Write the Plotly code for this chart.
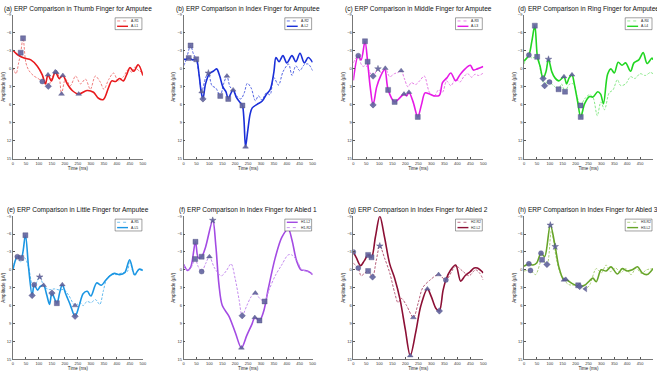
import numpy as np
import plotly.graph_objects as go

# ---------------- axis ticks ----------------
time_ticks = [0, 50, 100, 150, 200, 250, 300, 350, 400, 450, 500]
amp_ticks = [-9, -6, -3, 0, 3, 6, 9, 12, 15]

# ---------------- (a) Thumb, amputee ----------------
a_r1_t = [0, 12, 22, 30, 39, 50, 62, 81, 97, 113, 125, 136, 151, 167, 178, 187, 202, 221, 241, 260,
          279, 298, 317, 336, 350, 368, 387, 405, 425, 444, 458, 469, 484, 500]
a_r1_v = [-0.2, 0.8, -1.0, -2.7, -5.1, -1.0, 0.3, 1.2, 1.6, 2.1, 2.3, 2.9, 1.4, 0.6, 1.4, 4.2, 1.7, 2.8, 1.2, 2.5,
          1.7, 3.4, 1.2, 2.2, 3.4, 1.8, 0.7, 2.0, 1.3, 0.1, 0.6, -0.3, 0.3, 0.6]
a_l1_t = [0, 18, 43, 69, 94, 113, 125, 135, 148, 163, 178, 192, 209, 228, 253, 285, 310, 329, 348, 368,
          380, 395, 410, 425, 438, 450, 465, 482, 500]
a_l1_v = [-3.1, -2.35, -1.8, -1.5, -0.45, 1.0, 2.5, 1.0, 2.0, 0.5, 1.6, 1.1, 2.5, 3.6, 4.2, 3.6, 3.9, 4.9, 5.1, 3.1,
          2.0, 2.1, 1.6, 2.0, 0.9, -0.2, 0.4, -0.7, 1.1]
a_r1_mk = [(30, "square"), (39, "square"), (113, "circle"), (136, "diamond"), (167, "triangle-up"), (187, "triangle-up")]
a_l1_mk = [(135, "triangle-up"), (163, "triangle-up"), (192, "triangle-up"), (253, "triangle-up")]

# ---------------- (b) Index, amputee ----------------
a_r2_t = [0, 10, 27, 38, 49, 60, 70, 85, 96, 110, 125, 142, 155, 168, 180, 192, 205, 222, 235, 247,
          262, 278, 290, 304, 320, 335, 349, 368, 385, 407, 420, 435, 450, 468, 483, 500]
a_r2_v = [-0.5, -1.5, -3.9, -2.5, -1.6, 1.0, 3.8, 1.5, 0.7, 2.8, 3.2, 4.5, 2.5, 1.2, 3.0, 3.5, 4.5, 5.0, 4.0, 2.4,
          3.2, 5.3, 4.5, 5.2, 4.0, 4.3, 1.4, 2.7, 0.5, -0.8, 1.1, -0.5, 0.3, -0.7, -0.8, 0.3]
a_l2_t = [0, 10, 20, 35, 49, 60, 68, 75, 85, 100, 115, 128, 140, 152, 164, 173, 182, 192, 205, 221,
          228, 234, 240, 248, 258, 266, 285, 304, 320, 336, 350, 358, 370, 385, 400, 420, 435, 451, 468, 483, 500]
a_l2_v = [-1.6, -1.6, -1.8, -1.5, -1.6, 1.0, 3.8, 5.0, 2.5, 0.8, 0.4, 0.0, 1.2, 3.0, 3.8, 5.0, 4.2, 3.5, 4.8, 5.7,
          6.1, 8.5, 13.0, 10.5, 7.5, 6.5, 5.9, 5.4, 4.3, 3.4, 0.5, -1.9, -1.2, -2.2, -1.0, -2.2, -1.2, -2.6, -1.0, -1.9, -1.1]
a_r2_mk = [(27, "square"), (70, "triangle-up"), (96, "star"), (142, "square"), (168, "triangle-up")]
a_l2_mk = [(20, "square"), (49, "square"), (75, "diamond"), (173, "square"), (192, "triangle-up"),
           (228, "square"), (240, "triangle-up")]

# ---------------- (c) Middle, amputee ----------------
a_r3_t = [0, 19, 30, 38, 48, 64, 76, 95, 108, 123, 140, 158, 172, 184, 197, 210, 223, 240, 255, 273,
          293, 312, 328, 343, 359, 375, 394, 410, 425, 440, 455, 468, 482, 500]
a_r3_v = [-1.0, -2.2, -0.8, -0.4, -0.6, 0.6, 1.2, 0.0, 0.7, -0.1, 1.3, 0.8, 0.6, 0.3, 1.7, 3.0, 2.3, 2.6, 2.0, 1.2,
          3.9, 4.5, 3.5, 3.9, 2.0, 2.8, 1.7, 2.2, 1.3, 0.8, 1.4, 0.9, 1.1, 0.7]
a_l3_t = [0, 19, 30, 45, 55, 65, 76, 90, 105, 121, 134, 159, 175, 195, 205, 214, 230, 248, 262, 276,
          293, 310, 331, 343, 360, 375, 394, 410, 430, 450, 462, 477, 500]
a_l3_v = [1.9, -2.2, -1.5, -4.6, -1.2, 3.0, 6.0, 3.0, 1.2, 0.1, 3.5, 5.5, 5.0, 4.2, 4.5, 3.9, 5.5, 8.0, 6.0, 4.0,
          4.2, 4.5, 4.4, 2.3, 1.5, 0.7, 2.0, 1.0, 0.0, -0.6, 0.2, 0.0, -0.4]
a_r3_mk = [(19, "circle"), (76, "diamond"), (95, "star"), (123, "triangle-up"), (184, "triangle-up")]
a_l3_mk = [(45, "square"), (55, "square"), (76, "diamond"), (134, "square"), (159, "square"),
           (195, "triangle-up"), (214, "triangle-up"), (248, "square")]

# ---------------- (d) Ring, amputee ----------------
a_r4_t = [0, 19, 30, 51, 65, 80, 90, 99, 115, 134, 145, 159, 175, 191, 205, 219, 235, 254, 268, 284,
          298, 312, 330, 345, 362, 375, 394, 413, 430, 450, 470, 490, 500]
a_r4_v = [-0.8, -2.3, -1.8, -2.0, 0.5, 2.8, 2.0, 2.2, 2.8, 3.4, 2.5, 3.8, 2.6, 2.5, 4.5, 6.1, 5.0, 4.3, 4.8, 7.8,
          5.5, 6.8, 4.0, 3.5, 1.8, 2.8, 2.5, 1.3, 1.6, 0.8, 1.1, 0.6, 0.8]
a_l4_t = [0, 19, 30, 42, 52, 62, 74, 85, 95, 108, 120, 135, 155, 165, 175, 186, 195, 208, 220, 235,
          254, 267, 286, 297, 308, 324, 337, 350, 365, 380, 394, 413, 426, 445, 462, 477, 496, 500]
a_l4_v = [-1.3, -2.3, -4.5, -7.2, -2.0, -0.5, 1.6, 0.5, -1.6, 0.5, 1.5, 2.0, 1.3, 2.5, 1.5, 1.0, 2.5, 5.5, 8.0, 5.8,
          4.6, 4.7, 3.8, 4.2, 5.8, 0.9, 0.0, 0.7, -1.1, -0.6, -1.0, 0.4, -1.0, -1.5, -2.7, -0.9, -1.8, -1.5]
a_r4_mk = [(19, "circle"), (51, "square"), (80, "diamond"), (99, "circle"), (134, "square"), (159, "square"),
           (219, "square")]
a_l4_mk = [(42, "square"), (74, "diamond"), (95, "star"), (155, "triangle-up"), (186, "triangle-up"),
           (220, "square")]

# ---------------- (e) Little, amputee ----------------
a_r5_t = [0, 17, 30, 45, 60, 74, 85, 103, 120, 140, 160, 180, 195, 215, 239, 258, 270, 285, 300, 318,
          334, 348, 362, 380, 400, 420, 440, 449, 468, 485, 500]
a_r5_v = [-0.3, -2.2, -1.3, -2.0, -0.5, 2.3, 2.5, 1.2, 2.8, 3.3, 3.2, 3.4, 3.3, 4.3, 6.0, 5.5, 6.0, 5.3, 5.5, 5.0,
          5.8, 3.5, 1.4, 0.8, 0.8, 0.5, 0.3, -1.5, 1.0, 0.0, 0.2]
a_l5_t = [0, 17, 32, 48, 60, 74, 82, 95, 105, 118, 130, 141, 150, 169, 180, 190, 203, 220, 239, 255,
          270, 286, 300, 322, 340, 356, 373, 390, 410, 430, 449, 468, 485, 500]
a_l5_v = [0.0, -2.2, -2.0, -5.8, -0.5, 4.3, 2.5, 3.4, 2.8, 2.6, 4.2, 5.8, 3.9, 5.6, 3.8, 2.5, 4.0, 5.8, 7.8, 6.0,
          4.0, 3.6, 4.4, 2.2, 2.6, 1.8, 1.0, 0.6, 0.8, 0.5, -1.7, 0.8, -0.1, 0.1]
a_r5_mk = [(103, "star"), (239, "triangle-up")]
a_l5_mk = [(17, "circle"), (32, "square"), (48, "square"), (74, "diamond"), (82, "circle"), (118, "triangle-up"),
           (150, "diamond"), (169, "square"), (190, "triangle-up"), (239, "diamond")]

# ---------------- (f) Index, abled 1 ----------------
h1_r2_t = [0, 15, 28, 45, 57, 70, 85, 100, 120, 146, 165, 184, 200, 215, 227, 245, 262, 278, 295, 314,
           330, 355, 380, 405, 419, 440, 458, 475, 500]
h1_r2_v = [-0.9, 0.1, -0.3, -1.8, -0.5, 0.3, -1.0, -2.2, -0.3, 1.0, 0.2, -1.0, 1.5, 5.0, 7.7, 6.0, 4.5, 3.9, 4.8, 5.3,
           3.5, 1.0, -0.8, -2.5, -2.5, -1.5, 0.0, 0.2, 0.8]
h1_l2_t = [0, 15, 28, 46, 57, 70, 85, 113, 125, 137, 150, 176, 201, 224, 245, 265, 276, 294, 310, 329,
           355, 381, 406, 420, 438, 455, 470, 485, 500]
h1_l2_v = [-0.9, 0.1, -0.5, -4.7, -2.0, -2.2, -3.8, -8.3, -4.0, 2.5, 6.0, 7.8, 10.6, 13.1, 11.0, 9.1, 8.0, 8.5, 7.0, 3.0,
           -2.0, -5.5, -6.8, -5.0, -1.5, 0.0, 0.1, 0.3, 0.8]
h1_r2_mk = [(45, "square"), (70, "circle"), (100, "triangle-up"), (227, "diamond"), (278, "triangle-up"),
            (314, "square")]
h1_l2_mk = [(46, "square"), (70, "square"), (113, "star"), (224, "triangle-up"), (276, "triangle-up"),
            (294, "square")]

# ---------------- (g) Index, abled 2 ----------------
h2_r2_t = [0, 19, 30, 45, 57, 74, 88, 102, 120, 140, 160, 172, 185, 205, 231, 250, 267, 293, 328, 356,
           394, 420, 445, 470, 485, 500]
h2_r2_v = [-1.1, -0.3, 1.0, 0.5, 0.2, 1.2, -1.5, -4.0, -2.0, 0.5, 4.0, 5.5, 4.8, 6.0, 8.0, 5.5, 3.0, 1.8, 0.8, 1.7,
           -0.6, 0.2, 1.0, 0.0, 0.5, 1.7]
h2_l2_t = [0, 12, 28, 42, 57, 70, 85, 102, 120, 140, 159, 180, 200, 219, 240, 260, 285, 300, 318, 331,
           345, 356, 375, 394, 413, 430, 450, 465, 477, 500]
h2_l2_v = [-3.0, -2.0, -0.7, -1.5, -2.5, -2.1, -5.5, -9.0, -5.5, -1.0, 1.4, 5.0, 10.0, 14.4, 10.5, 6.0, 3.2, 4.5, 6.5, 6.9,
           3.5, 1.7, 0.0, -0.8, 1.9, 1.0, 0.3, -0.3, -0.3, 0.5]
h2_r2_mk = [(19, "circle"), (57, "square"), (74, "diamond"), (102, "star"), (231, "triangle-up"),
            (328, "triangle-up")]
h2_l2_mk = [(0, "circle"), (57, "square"), (70, "square"), (219, "triangle-up"), (285, "triangle-up"),
            (331, "diamond"), (356, "circle")]

# ---------------- (h) Index, abled 3 ----------------
h3_r2_t = [0, 25, 45, 70, 89, 106, 125, 140, 155, 175, 210, 225, 238, 255, 280, 300, 318, 335, 355, 375,
           395, 415, 435, 455, 475, 500]
h3_r2_v = [0.2, 0.1, 0.8, -1.7, -0.9, -6.5, -2.0, 0.5, 1.7, 2.5, 2.6, 3.0, 3.2, 2.5, -0.2, 0.5, -0.8, 0.3, -0.3, 0.5,
           -0.2, 0.8, -0.3, 0.6, 0.0, -0.2]
h3_l2_t = [0, 19, 35, 50, 66, 80, 102, 121, 135, 153, 162, 191, 216, 235, 255, 267, 280, 299, 318, 337,
           362, 381, 400, 420, 440, 458, 477, 500]
h3_l2_v = [-0.6, -1.0, -0.8, -1.2, -2.8, -2.2, -7.5, -3.9, -0.5, 1.6, 1.6, 2.4, 2.8, 2.6, 1.8, 1.4, 2.0, 0.0, 0.2, -0.5,
           0.7, -0.2, 0.2, 0.0, -0.5, 0.5, 0.8, -0.2]
h3_r2_mk = [(25, "circle"), (70, "square"), (89, "diamond"), (155, "triangle-up"), (210, "square"),
            (238, "triangle-left")]
h3_l2_mk = [(19, "circle"), (66, "circle"), (102, "star"), (121, "star"), (162, "triangle-up"), (216, "diamond")]

# ---------------- panel definitions ----------------
titles = [
    "(a) ERP Comparison in Thumb Finger for Amputee",
    "(b) ERP Comparison in Index Finger for Amputee",
    "(c) ERP Comparison in Middle Finger for Amputee",
    "(d) ERP Comparison in Ring Finger for Amputee",
    "(e) ERP Comparison in Little Finger for Amputee",
    "(f) ERP Comparison in Index Finger for Abled 1",
    "(g) ERP Comparison in Index Finger for Abled 2",
    "(h) ERP Comparison in Index Finger for Abled 3",
]

# each series: (name, times, values, markers, solid?)
panels = [
    [("A-R1", a_r1_t, a_r1_v, a_r1_mk, False), ("A-L1", a_l1_t, a_l1_v, a_l1_mk, True)],
    [("A-R2", a_r2_t, a_r2_v, a_r2_mk, False), ("A-L2", a_l2_t, a_l2_v, a_l2_mk, True)],
    [("A-R3", a_r3_t, a_r3_v, a_r3_mk, False), ("A-L3", a_l3_t, a_l3_v, a_l3_mk, True)],
    [("A-R4", a_r4_t, a_r4_v, a_r4_mk, False), ("A-L4", a_l4_t, a_l4_v, a_l4_mk, True)],
    [("A-R5", a_r5_t, a_r5_v, a_r5_mk, False), ("A-L5", a_l5_t, a_l5_v, a_l5_mk, True)],
    [("H1-L2", h1_l2_t, h1_l2_v, h1_l2_mk, True), ("H1-R2", h1_r2_t, h1_r2_v, h1_r2_mk, False)],
    [("H2-R2", h2_r2_t, h2_r2_v, h2_r2_mk, False), ("H2-L2", h2_l2_t, h2_l2_v, h2_l2_mk, True)],
    [("H3-R2", h3_r2_t, h3_r2_v, h3_r2_mk, False), ("H3-L2", h3_l2_t, h3_l2_v, h3_l2_mk, True)],
]

colors = [
    ("#e8191c", "#ef7f7f"),
    ("#1a2fd8", "#5566e2"),
    ("#e619e6", "#e47ce4"),
    ("#22d622", "#8ae88a"),
    ("#1b96e3", "#66bbee"),
    ("#a34be3", "#c48cee"),
    ("#8c1035", "#b65d79"),
    ("#67a52a", "#aacf7a"),
]

marker_color = "rgba(98,100,158,0.9)"

# ---------------- page geometry (pixels) ----------------
W, H = 657, 380
col_px = [(12, 143), (184, 314), (355, 486), (527, 657)]
row_px = [(12, 158), (216, 361)]
title_y_px = [6, 210]

FONT = "Arial, Liberation Sans, sans-serif"

fig = go.Figure()
layout_axes = {}
shapes = []
annotations = []

for i, (series, title, (c_solid, c_dash)) in enumerate(zip(panels, titles, colors)):
    r, c = divmod(i, 4)
    x0, x1 = col_px[c]
    y0, y1 = row_px[r]
    n = i + 1
    xa = "x" if n == 1 else f"x{n}"
    ya = "y" if n == 1 else f"y{n}"
    xkey = "xaxis" if n == 1 else f"xaxis{n}"
    ykey = "yaxis" if n == 1 else f"yaxis{n}"

    layout_axes[xkey] = dict(
        domain=[x0 / W, x1 / W], anchor=ya, range=[0, 500],
        tickvals=time_ticks, ticks="inside", ticklen=2, tickwidth=0.5, tickcolor="#555",
        showline=True, linecolor="#777", linewidth=0.6, showgrid=False, zeroline=False,
        tickfont=dict(size=4, family=FONT, color="#333"),
        title=dict(text="Time (ms)", font=dict(size=4.5, family=FONT, color="#222"), standoff=1),
    )
    layout_axes[ykey] = dict(
        domain=[1 - y1 / H, 1 - y0 / H], anchor=xa, range=[15, -9],
        tickvals=amp_ticks, ticks="inside", ticklen=2, tickwidth=0.5, tickcolor="#555",
        showline=True, linecolor="#777", linewidth=0.6, showgrid=False, zeroline=False,
        tickfont=dict(size=4, family=FONT, color="#333"),
        title=dict(text="Amplitude (μV)", font=dict(size=4.5, family=FONT, color="#222"), standoff=1),
    )

    # ERP curves
    for name, t, v, mk, solid in series:
        fig.add_trace(go.Scatter(
            x=t, y=v, mode="lines", name=name, showlegend=False,
            xaxis=xa, yaxis=ya,
            line=dict(color=c_solid if solid else c_dash, width=1.6 if solid else 1.0,
                      dash="solid" if solid else "2.5px,1.5px", shape="spline", smoothing=0.9),
            hoverinfo="skip",
        ))
    # peak markers sit on the curves
    for name, t, v, mk, solid in series:
        mt = [m[0] for m in mk]
        fig.add_trace(go.Scatter(
            x=mt, y=np.interp(mt, t, v), mode="markers", showlegend=False,
            xaxis=xa, yaxis=ya,
            marker=dict(symbol=[m[1] for m in mk], size=5, color=marker_color,
                        line=dict(width=0.4, color="rgba(70,70,120,0.9)")),
            hoverinfo="skip",
        ))

    # title
    annotations.append(dict(
        text=title, x=(x0 + x1) / 2 / W, y=1 - title_y_px[r] / H, xref="paper", yref="paper",
        xanchor="center", yanchor="middle", showarrow=False,
        font=dict(size=6.6, family=FONT, color="#111"),
    ))

    # legend box in the top-right corner of each panel
    lx0, lx1 = x1 - 28, x1 - 1
    ly0, ly1 = y0 + 3, y0 + 15
    shapes.append(dict(type="rect", xref="paper", yref="paper",
                       x0=lx0 / W, x1=lx1 / W, y0=1 - ly1 / H, y1=1 - ly0 / H,
                       line=dict(color="#444", width=0.5), fillcolor="white", layer="above"))
    for k, (name, t, v, mk, solid) in enumerate(series):
        yy = ly0 + 3.2 + k * 5.4
        shapes.append(dict(type="line", xref="paper", yref="paper",
                           x0=(lx0 + 2) / W, x1=(lx0 + 13) / W, y0=1 - yy / H, y1=1 - yy / H,
                           line=dict(color=c_solid if solid else c_dash, width=1.4 if solid else 0.9,
                                     dash="solid" if solid else "dot"), layer="above"))
        annotations.append(dict(
            text=name, x=(lx0 + 14) / W, y=1 - yy / H, xref="paper", yref="paper",
            xanchor="left", yanchor="middle", showarrow=False,
            font=dict(size=3.4, family=FONT, color="#222"),
        ))

fig.update_layout(
    width=W, height=H, margin=dict(l=0, r=0, t=0, b=0),
    paper_bgcolor="white", plot_bgcolor="white",
    shapes=shapes, annotations=annotations, showlegend=False,
    **layout_axes,
)

fig.write_html("out.html")
